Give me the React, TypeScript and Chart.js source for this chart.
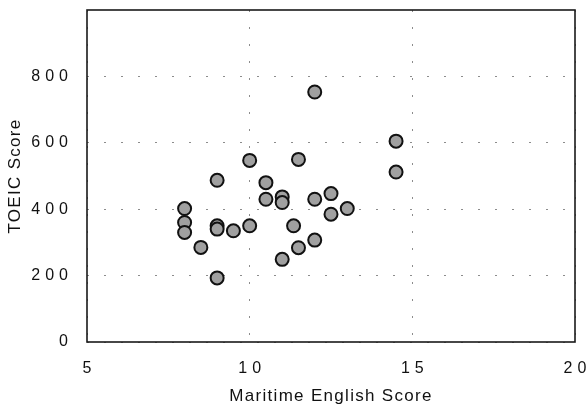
import React, { useEffect, useRef } from "react";
import { Chart, registerables } from "chart.js";

Chart.register(...registerables);

// Maritime English score (x) vs TOEIC score (y), one entry per student
const maritimeEnglishScores = [
  8, 8, 8, 8.5, 9, 9, 9, 9, 9.5, 10, 10, 10.5, 10.5, 11, 11, 11, 11.35, 11.5, 11.5,
  12, 12, 12, 12.5, 12.5, 13, 14.5, 14.5,
];
const toeicScores = [
  402, 360, 330, 285, 487, 350, 340, 193, 335, 547, 350, 480, 430, 437, 420, 249, 350, 550, 284,
  753, 430, 307, 447, 385, 402, 605, 512,
];

const xAxisTitle = "Maritime English Score";
const yAxisTitle = "TOEIC Score";
const xTicks = { min: 5, max: 20, step: 5 };
const yTicks = { min: 0, max: 1000, step: 200, lastLabel: 800 };

const FONT = "'Liberation Sans', Arial, Helvetica, sans-serif";
const TICK_SPACING = "5px";
const TITLE_SPACING = "1.3px";

const spacingPlugin = {
  id: "spacingPlugin",
  beforeUpdate(chart: any) {
    chart.ctx.letterSpacing = TICK_SPACING;
  },
  beforeLayout(chart: any) {
    chart.ctx.letterSpacing = TICK_SPACING;
  },
  beforeDraw(chart: any) {
    chart.ctx.letterSpacing = TITLE_SPACING;
  },
  beforeDatasetsDraw(chart: any) {
    const { ctx, chartArea } = chart;
    ctx.save();
    ctx.letterSpacing = "0px";
    ctx.strokeStyle = "#1a1a1a";
    ctx.lineWidth = 1.6;
    ctx.strokeRect(chartArea.left, chartArea.top, chartArea.right - chartArea.left, chartArea.bottom - chartArea.top);
    ctx.restore();
  },
  afterDatasetsDraw(chart: any) {
    chart.ctx.letterSpacing = TICK_SPACING;
  },
};

function zeroPadding(scale: any) {
  scale.paddingLeft = 0;
  scale.paddingRight = 0;
  scale.paddingTop = 0;
  scale.paddingBottom = 0;
}

export default function App() {
  const canvasRef = useRef<HTMLCanvasElement | null>(null);

  useEffect(() => {
    if (!canvasRef.current) return;
    const points = maritimeEnglishScores.map((x, i) => ({ x, y: toeicScores[i] }));
    const chart = new Chart(canvasRef.current, {
      type: "scatter",
      data: {
        datasets: [
          {
            label: "Students",
            data: points,
            pointRadius: 6.5,
            pointHoverRadius: 6.5,
            pointBorderWidth: 2,
            pointBackgroundColor: "#a0a0a0",
            pointBorderColor: "#111111",
          },
        ],
      },
      options: {
        animation: false,
        responsive: false,
        devicePixelRatio: 1,
        layout: { padding: { top: 10, right: 12, left: 0, bottom: 0 } },
        plugins: {
          legend: { display: false },
          tooltip: { enabled: false },
        },
        scales: {
          x: {
            type: "linear",
            min: xTicks.min,
            max: xTicks.max,
            afterFit(scale: any) {
              scale.height = 65;
              zeroPadding(scale);
            },
            ticks: {
              stepSize: xTicks.step,
              padding: 17,
              labelOffset: 2.5,
              color: "#111",
              font: { family: FONT, size: 16 },
              z: 1,
            },
            grid: {
              color: "rgba(0,0,0,0.45)",
              lineWidth: 1,
              drawTicks: false,
            },
            border: { display: false, dash: [2, 15] },
            title: {
              display: true,
              text: xAxisTitle,
              color: "#111",
              font: { family: FONT, size: 17 },
              padding: { top: 0, bottom: 0 },
            },
          },
          y: {
            type: "linear",
            min: yTicks.min,
            max: yTicks.max,
            afterFit(scale: any) {
              scale.width = 87;
              zeroPadding(scale);
            },
            afterBuildTicks(scale: any) {
              scale.ticks = scale.ticks.filter((t: any) => t.value <= yTicks.lastLabel);
            },
            ticks: {
              stepSize: yTicks.step,
              padding: 14,
              color: "#111",
              font: { family: FONT, size: 16 },
              z: 1,
            },
            grid: {
              color: "rgba(0,0,0,0.45)",
              lineWidth: 1,
              drawTicks: false,
            },
            border: { display: false, dash: [2, 15] },
            title: {
              display: true,
              text: yAxisTitle,
              color: "#111",
              font: { family: FONT, size: 17 },
              padding: { top: 5, bottom: 0 },
            },
          },
        },
      },
      plugins: [spacingPlugin],
    });
    return () => chart.destroy();
  }, []);

  return (
    <div style={{ position: "fixed", left: 0, top: 0, width: 587, height: 407, background: "#fff" }}>
      <canvas ref={canvasRef} width={587} height={407} style={{ width: 587, height: 407 }} />
    </div>
  );
}
